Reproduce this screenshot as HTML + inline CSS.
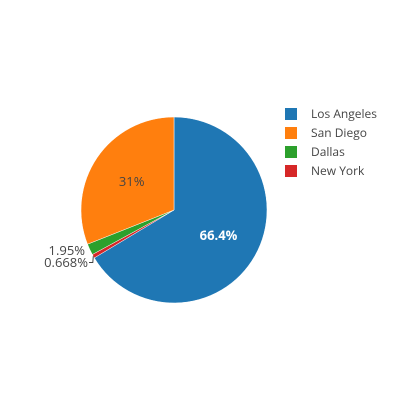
<!DOCTYPE html>
<html><head><meta charset="utf-8"><style>
body{margin:0;background:#fff;}
svg{display:block;font-family:"Open Sans","Liberation Sans",sans-serif;}
</style></head><body>
<svg id="chart" width="400" height="400">
<g id="slices"></g>
<g id="labels"></g>
<g id="legend"></g>
</svg>
<script>
const categories = ["Los Angeles", "New York", "Dallas", "San Diego"];
const values = [66.4, 0.668, 1.95, 31];
const legendOrder = ["Los Angeles", "San Diego", "Dallas", "New York"];
const colors = {"Los Angeles":"#1f77b4","San Diego":"#ff7f0e","Dallas":"#2ca02c","New York":"#d62728"};
const NS="http://www.w3.org/2000/svg";
const cx=174, cy=210, r=93;
const total=values.reduce((a,b)=>a+b,0);
function pt(a,rad){return [cx+rad*Math.sin(a), cy-rad*Math.cos(a)];}
function fmt(p){let s=Number(p.toPrecision(3)).toString();return s+"%";}
const sg=document.getElementById('slices'), lg=document.getElementById('labels');
let a0=0;
categories.forEach((c,i)=>{
  const frac=values[i]/total, a1=a0+frac*2*Math.PI;
  const [x0,y0]=pt(a0,r),[x1,y1]=pt(a1,r);
  const p=document.createElementNS(NS,'path');
  p.setAttribute('d',`M${cx},${cy}L${x0},${y0}A${r},${r} 0 ${frac>0.5?1:0} 1 ${x1},${y1}Z`);
  p.setAttribute('fill',colors[c]);p.setAttribute('stroke','#fff');p.setAttribute('stroke-width','0.5');
  
  
  sg.appendChild(p);
  const am=(a0+a1)/2, txt=fmt(frac*100);
  const t=document.createElementNS(NS,'text');
  t.setAttribute('font-size','13');
  if(frac>0.1){
    const [lx,ly]=pt(am,r*0.55);
    t.setAttribute('x',lx);t.setAttribute('y',ly+5);t.setAttribute('text-anchor','middle');
    const dark = c==="Los Angeles";
    t.setAttribute('fill',dark?'#fff':'#444');
    if(dark) t.setAttribute('font-weight','bold');
  } else {
    const [ex,ey]=pt(am,r);
    let tx, ty;
    if(c==="New York"){
      ty=267; tx=88;
      const l=document.createElementNS(NS,'polyline');
      l.setAttribute('points',`${ex},${ey} ${ex-0.5},${ty-4.5} ${tx+1},${ty-4.5}`);
      l.setAttribute('fill','none');l.setAttribute('stroke','#444');l.setAttribute('stroke-width','1');
      
      
      lg.appendChild(l);
    } else { ty=255; tx=85; }
    t.setAttribute('x',tx);t.setAttribute('y',ty);t.setAttribute('text-anchor','end');t.setAttribute('fill','#444');
  }
  t.textContent=txt;
  
  
  lg.appendChild(t);
  a0=a1;
});
const leg=document.getElementById('legend');
legendOrder.forEach((c,i)=>{
  const y=114+i*19;
  const g=document.createElementNS(NS,'g');
  
  
  const rc=document.createElementNS(NS,'rect');
  rc.setAttribute('x',285);rc.setAttribute('y',y-6);rc.setAttribute('width',12);rc.setAttribute('height',12);
  rc.setAttribute('fill',colors[c]);
  const t=document.createElementNS(NS,'text');
  t.setAttribute('x',311);t.setAttribute('y',y+4);t.setAttribute('font-size','12');t.setAttribute('fill','#444');
  t.textContent=c;
  g.appendChild(rc);g.appendChild(t);leg.appendChild(g);
});
</script>
</body></html>
